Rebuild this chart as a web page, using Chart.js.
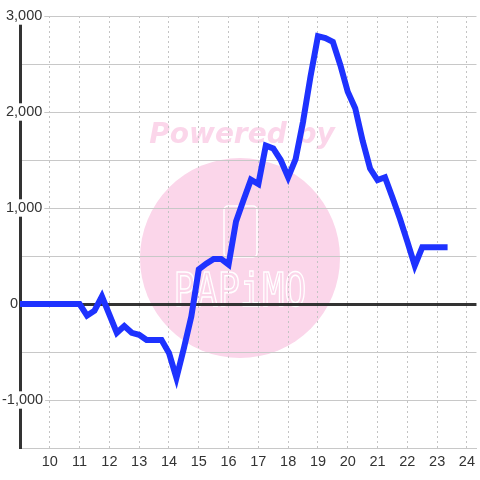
<!DOCTYPE html>
<html>
<head>
<meta charset="utf-8">
<script src="https://cdn.jsdelivr.net/npm/chart.js@4.4.1/dist/chart.umd.min.js"></script>
<style>
  html, body { margin: 0; padding: 0; background: #fff; }
  #wrap { width: 480px; height: 480px; }
</style>
</head>
<body>
<div id="wrap"><canvas id="chart1"></canvas></div>
<script>
var hours = [9, 9.25, 9.5, 9.75, 10, 10.25, 10.5, 10.75, 11, 11.25, 11.5, 11.75,
    12, 12.25, 12.5, 12.75, 13, 13.25, 13.5, 13.75, 14, 14.25, 14.5, 14.75,
    15, 15.25, 15.5, 15.75, 16, 16.25, 16.5, 16.75, 17, 17.25, 17.5, 17.75,
    18, 18.25, 18.5, 18.75, 19, 19.25, 19.5, 19.75, 20, 20.25, 20.5, 20.75,
    21, 21.25, 21.5, 21.75, 22, 22.25, 22.5, 22.75, 23, 23.25]

var diff = [0, 0, 0, 0, 0, 0, 0, 0, 0, -120, -70, 80,
    -110, -300, -230, -300, -320, -375, -375, -375, -510, -770, -460, -130,
    360, 420, 470, 470, 410, 860, 1080, 1295, 1250, 1650, 1620, 1500,
    1320, 1510, 1900, 2370, 2790, 2770, 2730, 2490, 2210, 2040, 1700, 1410,
    1290, 1320, 1110, 890, 650, 400, 590, 590, 590, 590]

var xTicks = [10, 11, 12, 13, 14, 15, 16, 17, 18, 19, 20, 21, 22, 23, 24]
var yTicks = [-1500, -1000, -500, 0, 500, 1000, 1500, 2000, 2500, 3000]

var labelFont = { family: '"Liberation Sans", Arial, sans-serif', size: 14.5 }

// pink "Powered by" logo behind the plot
var watermark = {
    id: 'watermark',
    beforeDraw: function (chart) {
        var ctx = chart.ctx
        ctx.save()
        ctx.fillStyle = '#fbd6ea'
        ctx.beginPath()
        ctx.arc(240, 258, 100, 0, Math.PI * 2)
        ctx.fill()
        ctx.font = 'italic bold 28px "DejaVu Sans"'
        ctx.textAlign = 'center'
        ctx.textBaseline = 'alphabetic'
        ctx.fillText('Powered by', 242, 143)
        ctx.strokeStyle = '#ffffff'
        ctx.lineWidth = 1.5
        ctx.beginPath()
        ctx.roundRect(224, 206, 33, 51, 4)
        ctx.stroke()
        ctx.translate(240, 306)
        ctx.scale(0.8, 1)
        ctx.font = '46px "DejaVu Sans Mono"'
        ctx.strokeText('PAPiMO', 0, 0)
        ctx.restore()
    }
}

new Chart(
    document.getElementById('chart1'),
    {
        type: 'line',
        data: {
            datasets: [
                {
                    data: hours.map(function (h, i) { return { x: h, y: diff[i] } }),
                    borderColor: '#1e32ff',
                    borderWidth: 6,
                    borderCapStyle: 'square',
                    pointRadius: 0,
                    tension: 0,
                    fill: false
                }
            ]
        },
        options: {
            responsive: true,
            maintainAspectRatio: false,
            animation: false,
            layout: { padding: { top: 16, left: 0, right: 0, bottom: 0 } },
            plugins: {
                legend: { display: false },
                tooltip: { enabled: false }
            },
            scales: {
                x: {
                    type: 'linear',
                    min: 9,
                    max: 24.32,
                    afterBuildTicks: function (s) { s.ticks = xTicks.map(function (v) { return { value: v } }) },
                    afterFit: function (s) { s.height = 32 },
                    grid: { color: '#c4c4c4', lineWidth: 1, drawTicks: false },
                    border: { color: '#c8c8c8', width: 1, dash: [2, 3] },
                    ticks: { padding: 5, color: '#333', font: labelFont, maxRotation: 0 }
                },
                y: {
                    min: -1500,
                    max: 3000,
                    afterBuildTicks: function (s) { s.ticks = yTicks.map(function (v) { return { value: v } }) },
                    afterFit: function (s) { s.width = 20 },
                    grid: {
                        color: function (c) { return c.tick && c.tick.value === 0 ? '#333' : '#c8c8c8' },
                        lineWidth: function (c) { return c.tick && c.tick.value === 0 ? 3 : 1 },
                        drawTicks: false
                    },
                    border: { color: '#333', width: 3 },
                    ticks: {
                        mirror: true,
                        padding: -18,
                        color: '#333',
                        font: labelFont,
                        showLabelBackdrop: true,
                        backdropPadding: { top: 0, bottom: 0, left: 2, right: 2 },
                        backdropColor: function (c) {
                            var v = c.tick ? c.tick.value : null
                            return (v !== 0 && v % 1000 === 0) ? '#ffffff' : 'rgba(0,0,0,0)'
                        },
                        callback: function (v) {
                            if (v === 0) return '  0'
                            if (v % 1000 !== 0) return ''
                            var s = v.toLocaleString('en-US')
                            return v < 0 ? s : ' ' + s
                        }
                    }
                }
            }
        },
        plugins: [watermark]
    }
);
</script>
</body>
</html>
